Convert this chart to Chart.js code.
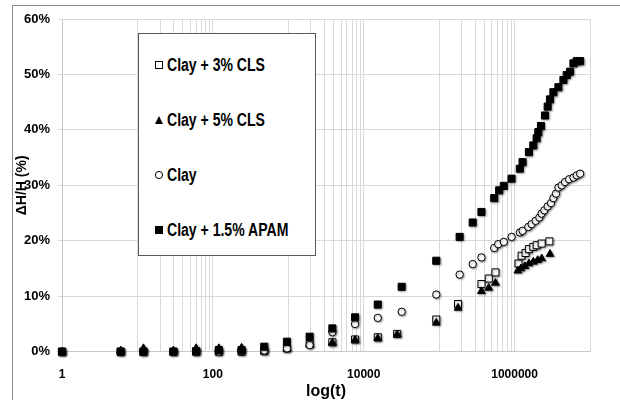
<!DOCTYPE html>
<html><head><meta charset="utf-8">
<script src="https://cdn.jsdelivr.net/npm/chart.js@4"></script>
<style>
html,body{margin:0;padding:0;background:#fff;}
#wrap{position:relative;width:620px;height:400px;overflow:hidden;}
#frame{position:absolute;left:12px;top:5px;width:640px;height:420px;border-top:1px solid #8c8c8c;border-left:1px solid #8c8c8c;}
canvas{position:absolute;left:0;top:0;}
#legend{position:absolute;left:138px;top:33px;width:178px;height:223px;border:1px solid #595959;background:#fff;box-sizing:border-box;font:bold 18px 'Liberation Sans',Arial,sans-serif;color:#000;}
.item{position:absolute;left:15px;height:22px;line-height:22px;display:flex;align-items:center;white-space:nowrap;}
.item svg{flex:none;}
.item span{display:inline-block;margin-left:3px;transform:scaleX(0.78);transform-origin:0 50%;}
</style></head>
<body>
<div id="wrap">
  <div id="frame"></div>
  <canvas id="c" width="620" height="400"></canvas>
  <div id="legend"></div>
</div>
<script>
const seriesNames = ['Clay + 3% CLS', 'Clay + 5% CLS', 'Clay', 'Clay + 1.5% APAM'];

const cls3T = [1, 6, 12, 30, 60, 120, 240, 480, 960, 1920, 3840, 7680, 15360, 27750, 91600, 178000, 363800, 455000, 558000, 1128000, 1239000, 1400000, 1549000, 1773000, 1963000, 2285000, 2893000];
const cls3Y = [0, 0, 0, 0, 0, 0, 0, 0.1, 0.6, 1.4, 1.7, 2.2, 2.6, 3.2, 5.8, 8.6, 12.2, 13.2, 14.3, 15.9, 17.3, 17.8, 18.5, 18.9, 19.2, 19.5, 19.9];

const cls5T = [1, 6, 12, 30, 60, 120, 240, 480, 960, 1920, 3840, 7680, 15360, 27750, 91600, 178000, 363800, 455000, 558000, 1106000, 1213000, 1370000, 1549000, 1773000, 2023000, 2285000, 2949000];
const cls5Y = [0, 0.2, 0.6, 0.2, 0.6, 0.6, 0.7, 0.3, 0.6, 1.3, 1.6, 2.1, 2.4, 3.1, 5.2, 7.9, 10.9, 11.5, 12.4, 14.6, 15.0, 15.4, 15.9, 16.2, 16.5, 16.8, 17.6];

const clayT = [1, 6, 12, 30, 60, 120, 240, 480, 960, 1920, 3840, 7680, 15360, 31860, 91600, 187000, 278600, 363800, 537000, 607000, 720000, 912000, 1175000, 1277000, 1520000, 1683000, 1902000, 2130000, 2285000, 2483000, 2748000, 3040000, 3272000, 3540000, 3814000, 4215000, 4666000, 5275000, 6034000, 6675000, 7390000];
const clayY = [0, 0, 0, 0, 0, 0, 0.1, 0.2, 0.6, 1.2, 3.5, 5.0, 6.1, 7.2, 10.3, 13.9, 15.8, 17.0, 18.7, 19.4, 19.8, 20.7, 21.5, 21.8, 22.5, 23.0, 23.6, 24.2, 24.9, 25.5, 26.2, 26.8, 27.7, 28.5, 29.6, 30.0, 30.6, 31.1, 31.4, 31.8, 32.1];

const apamT = [1, 6, 12, 30, 60, 120, 240, 480, 960, 1920, 3840, 7680, 15360, 31860, 91600, 187000, 278600, 363800, 537000, 625000, 720000, 912000, 1175000, 1277000, 1549000, 1773000, 1963000, 2066000, 2238000, 2531000, 2748000, 2949000, 3272000, 3814000, 4444000, 4913000, 5435000, 6034000, 6675000, 7390000];
const apamY = [0, 0, 0, 0, 0.1, 0.3, 0.3, 0.9, 1.8, 2.7, 4.2, 6.2, 8.5, 11.7, 16.4, 20.7, 23.3, 25.2, 27.7, 29.1, 29.9, 31.2, 33.0, 34.2, 36.0, 37.2, 38.5, 39.6, 40.7, 42.6, 44.2, 45.5, 46.8, 47.7, 49.0, 49.9, 50.5, 52.0, 52.4, 52.4];

const xLabelValues = [1, 100, 10000, 1000000];
const xGridValues = [1, 10, 20, 30, 40, 50, 60, 70, 80, 90, 100,
  1000, 2000, 3000, 4000, 5000, 6000, 7000, 8000, 9000, 10000,
  100000, 200000, 300000, 400000, 500000, 600000, 700000, 800000, 900000, 1000000, 10000000];
const yTickValues = [0, 10, 20, 30, 40, 50, 60];

const FONT = "'Liberation Sans',Arial,sans-serif";

function pts(ts, ys) { return ts.map((t, i) => ({x: t, y: ys[i]})); }

const shadowPlugin = {
  id: 'markerShadow',
  beforeDatasetsDraw(chart) {
    const c = chart.ctx; c.save();
    c.shadowColor = 'rgba(0,0,0,0.35)'; c.shadowBlur = 2; c.shadowOffsetX = 1; c.shadowOffsetY = 1;
  },
  afterDatasetsDraw(chart) { chart.ctx.restore(); }
};

const styles = [
  {pointStyle: 'rect', pointRadius: 5, backgroundColor: '#fff', borderColor: '#000', order: 4},
  {pointStyle: 'triangle', pointRadius: 4.5, backgroundColor: '#000', borderColor: '#000', order: 3},
  {pointStyle: 'circle', pointRadius: 3.7, backgroundColor: '#fff', borderColor: '#000', order: 2},
  {pointStyle: 'rect', pointRadius: 5, backgroundColor: '#000', borderColor: '#000', order: 1}
];
const dataSets = [pts(cls3T, cls3Y), pts(cls5T, cls5Y), pts(clayT, clayY), pts(apamT, apamY)];

const chart = new Chart(document.getElementById('c'), {
  type: 'scatter',
  data: {
    datasets: dataSets.map((d, i) => Object.assign({
      label: seriesNames[i], data: d, showLine: false, borderWidth: 1,
      pointBorderWidth: 1, clip: false, pointHoverRadius: 5
    }, styles[i]))
  },
  options: {
    responsive: false, animation: false,
    layout: {padding: {left: 0, right: 30, top: 19, bottom: 0}},
    plugins: {legend: {display: false}, tooltip: {enabled: false}},
    scales: {
      x: {
        type: 'logarithmic', min: 1, max: 10000000,
        afterBuildTicks(scale) { scale.ticks = xGridValues.map(v => ({value: v})); },
        afterFit(scale) { scale.height = 48.3; },
        ticks: {
          autoSkip: false, maxRotation: 0, padding: 16, color: '#000',
          font: {family: FONT, size: 12, weight: 'bold'},
          callback: (v) => xLabelValues.includes(v) ? String(v) : ''
        },
        grid: {color: '#d9d9d9', drawTicks: false},
        border: {color: '#c8c8c8'},
        title: {display: true, text: 'log(t)', color: '#000', padding: {top: 0, bottom: 0},
          font: {family: FONT, size: 16, weight: 'bold', lineHeight: 1.1}}
      },
      y: {
        type: 'linear', min: 0, max: 60,
        afterBuildTicks(scale) { scale.ticks = yTickValues.map(v => ({value: v})); },
        afterFit(scale) { scale.width = 62; },
        ticks: {
          padding: 8, color: '#000',
          font: {family: FONT, size: 13, weight: 'bold'},
          callback: (v) => v + '%'
        },
        grid: {color: '#d9d9d9', drawTicks: true, tickLength: 4},
        border: {color: '#c8c8c8'},
        title: {display: true, text: 'ΔH/H (%)', color: '#000', padding: {top: 14, bottom: 0},
          font: {family: FONT, size: 14, weight: 'bold'}}
      }
    }
  },
  plugins: [shadowPlugin]
});

// HTML legend built from the dataset names
const markerSvg = [
  '<svg width="10" height="10"><rect x="1.5" y="1.5" width="7" height="7" fill="#fff" stroke="#000" stroke-width="1"/></svg>',
  '<svg width="10" height="10"><polygon points="5,1 9,9 1,9" fill="#000"/></svg>',
  '<svg width="10" height="10"><circle cx="5" cy="5" r="3.6" fill="#fff" stroke="#000" stroke-width="1"/></svg>',
  '<svg width="10" height="10"><rect x="1" y="1" width="8" height="8" fill="#000"/></svg>'
];
const legend = document.getElementById('legend');
const centers = [32, 87, 142, 197];
seriesNames.forEach((name, i) => {
  const el = document.createElement('div');
  el.className = 'item';
  el.style.top = (centers[i] - 12) + 'px';
  el.innerHTML = markerSvg[i] + '<span></span>';
  el.querySelector('span').textContent = name;
  legend.appendChild(el);
});
</script>
</body></html>
